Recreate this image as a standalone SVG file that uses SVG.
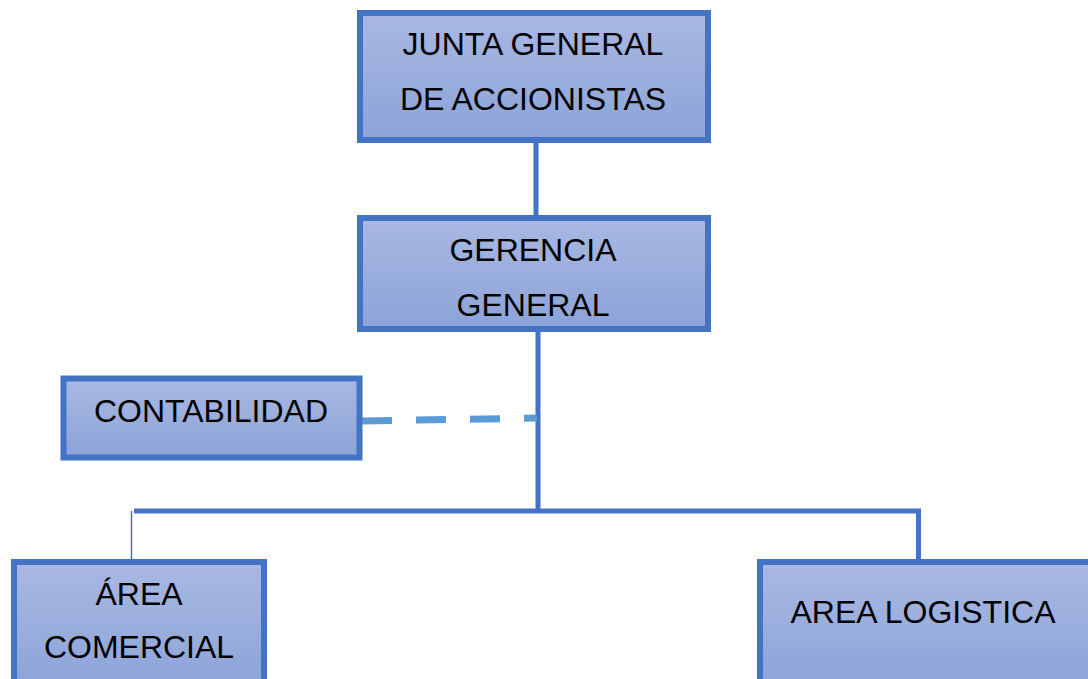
<svg xmlns="http://www.w3.org/2000/svg" width="1088" height="679" viewBox="0 0 1088 679">
<defs>
<linearGradient id="fillGrad" x1="0" y1="0" x2="0" y2="1">
<stop offset="0" stop-color="#A8B8E2"/>
<stop offset="1" stop-color="#8CA3D8"/>
</linearGradient>
<style>
.box{fill:url(#fillGrad);stroke:#4472C4;stroke-width:6}
.lbl{font-family:"Liberation Sans",Arial,sans-serif;font-size:32px;fill:#000;text-anchor:middle}
.conn{stroke:#4472C4;stroke-width:5;fill:none}
</style>
</defs>
<rect width="1088" height="679" fill="#fff"/>
<g id="connectors">
<line class="conn" x1="536" y1="140" x2="536" y2="218"/>
<line class="conn" x1="538" y1="329" x2="538" y2="511"/>
<line class="conn" x1="134" y1="511" x2="921" y2="511"/>
<line class="conn" x1="918.5" y1="509" x2="918.5" y2="562"/>
<line x1="131.5" y1="511" x2="131.5" y2="562" stroke="#4472C4" stroke-width="1.5"/>
<line x1="362" y1="421" x2="537" y2="418" stroke="#5B9BD5" stroke-width="7" stroke-dasharray="30 24"/>
</g>
<g id="junta">
<rect class="box" x="360" y="13" width="348" height="127"/>
<text class="lbl" x="533" y="55">JUNTA GENERAL</text>
<text class="lbl" x="533" y="110">DE ACCIONISTAS</text>
</g>
<g id="gerencia">
<rect class="box" x="360" y="218" width="348" height="111"/>
<text class="lbl" x="533" y="261">GERENCIA</text>
<text class="lbl" x="533" y="316">GENERAL</text>
</g>
<g id="contabilidad">
<rect class="box" x="63.5" y="378.5" width="296" height="79"/>
<text class="lbl" x="211" y="422">CONTABILIDAD</text>
</g>
<g id="comercial">
<rect class="box" x="14" y="562" width="250" height="130"/>
<text class="lbl" x="139" y="605">ÁREA</text>
<text class="lbl" x="139" y="658">COMERCIAL</text>
</g>
<g id="logistica">
<rect class="box" x="760" y="562" width="340" height="130"/>
<text class="lbl" x="923" y="623">AREA LOGISTICA</text>
</g>
</svg>
